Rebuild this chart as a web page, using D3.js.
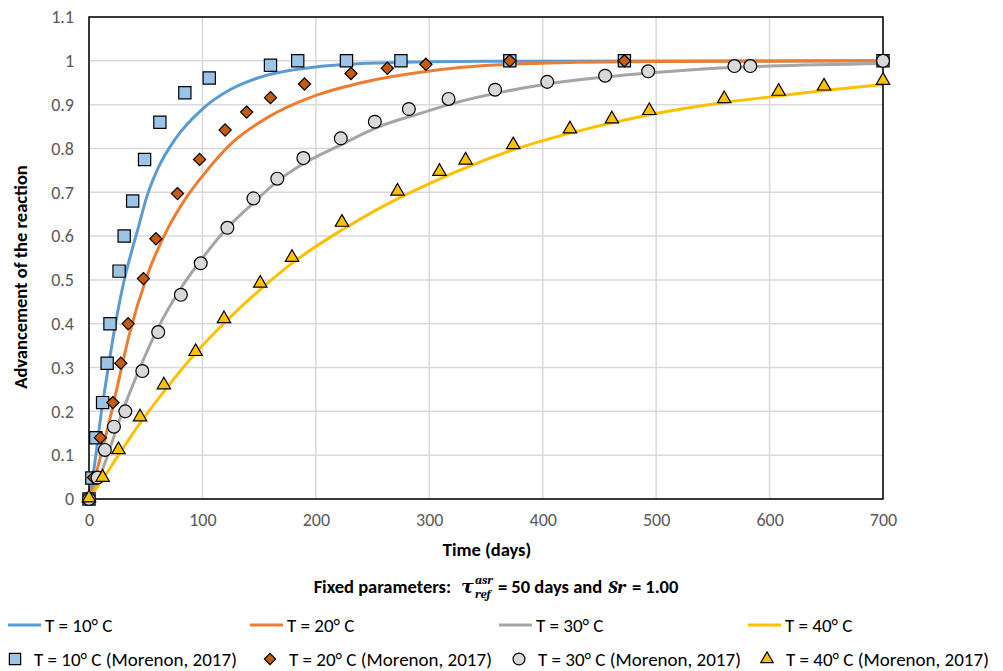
<!DOCTYPE html>
<html>
<head>
<meta charset="utf-8">
<script src="https://cdn.jsdelivr.net/npm/d3@7/dist/d3.min.js"></script>
<style>
body { margin: 0; background: #fff; }
text { font-family: Calibri, Carlito, "Liberation Sans", Arial, sans-serif; white-space: pre; }
</style>
</head>
<body>
<svg id="chart" width="1003" height="671"></svg>
<script>
// model curves (days, advancement)
var curveT10 = [[0,0],[5,0.08],[11,0.2],[17,0.3],[22,0.38],[27,0.45],[32,0.51],[36,0.55],[43.5,0.62],[51,0.69],[60,0.75],[77,0.825],[100,0.89],[125,0.935],[150,0.962],[200,0.986],[256,0.995],[350,0.999],[700,1.0]];
var curveT20 = [[0,0],[5,0.045],[10,0.095],[20,0.2],[27,0.28],[35,0.37],[51,0.508],[70,0.62],[85,0.685],[100,0.737],[127,0.815],[157,0.87],[200,0.921],[245,0.953],[292,0.974],[371,0.992],[472,0.998],[700,1.0]];
var curveT30 = [[0,0],[7,0.035],[14,0.082],[29,0.196],[45,0.3],[60,0.386],[82,0.485],[101,0.553],[122,0.619],[145,0.676],[166,0.725],[189,0.765],[222,0.808],[252,0.846],[292,0.88],[317,0.9],[404,0.947],[493,0.972],[539,0.981],[600,0.988],[700,0.994]];
var curveT40 = [[0,0],[12,0.045],[26,0.1],[45,0.173],[66,0.245],[94,0.333],[119,0.401],[151,0.478],[180,0.54],[223,0.614],[257,0.665],[301,0.721],[374,0.797],[424,0.835],[494,0.877],[560,0.905],[608,0.92],[648,0.932],[700,0.946]];

// Morenon (2017) measurements
var dataT10 = [[0,0],[2.5,0.048],[6,0.14],[12,0.22],[16,0.31],[18.5,0.4],[26.5,0.52],[31,0.6],[38.5,0.68],[49,0.775],[62.5,0.86],[84.5,0.927],[106,0.961],[160,0.99],[184,1.0],[227,1.0],[275,1.0],[371,1.0],[472,1.0],[700,1.0]];
var dataT20 = [[0,0],[4,0.049],[10,0.14],[21,0.22],[28,0.31],[34.5,0.4],[48,0.503],[59,0.594],[78,0.697],[97.5,0.775],[120,0.842],[139,0.883],[160,0.916],[190,0.947],[231,0.971],[263,0.983],[297,0.992],[371,1.0],[472,1.0],[700,1.0]];
var dataT30 = [[0,0],[7.5,0.049],[14,0.112],[22,0.165],[32,0.2],[47,0.292],[61,0.381],[81,0.466],[98.5,0.538],[122,0.619],[145,0.686],[166,0.731],[189,0.778],[222,0.823],[252,0.861],[282,0.89],[317,0.913],[358,0.934],[404,0.952],[455,0.966],[493,0.976],[569,0.988],[583,0.988],[700,1.0]];
var dataT40 = [[0,0],[12,0.047],[26,0.11],[45,0.185],[66,0.258],[94,0.334],[119,0.409],[151,0.49],[179,0.549],[223,0.629],[272,0.7],[309,0.745],[332,0.771],[374,0.806],[424,0.842],[461,0.865],[494,0.884],[560,0.911],[608,0.928],[648,0.94],[700,0.953]];

var curveNames = ["T = 10° C", "T = 20° C", "T = 30° C", "T = 40° C"];
var dataNames = ["T = 10° C (Morenon, 2017)", "T = 20° C (Morenon, 2017)", "T = 30° C (Morenon, 2017)", "T = 40° C (Morenon, 2017)"];
var xTicks = [0, 100, 200, 300, 400, 500, 600, 700];
var yTicks = [0, 0.1, 0.2, 0.3, 0.4, 0.5, 0.6, 0.7, 0.8, 0.9, 1, 1.1];

var lineColors = ["#5b9bd5", "#ed7d31", "#a5a5a5", "#ffc000"];
var markerFills = ["#9dc3e6", "#c55a11", "#d9d9d9", "#ffc000"];
var markerShapes = [d3.symbolSquare, d3.symbolDiamond2, d3.symbolCircle, d3.symbolTriangle];
var markerSizes = [150, 95, 130, 78];

var svg = d3.select("#chart");
var plotLeft = 89, plotRight = 883, plotTop = 17, plotBottom = 499;
var sansFont = "Calibri, Carlito, 'Liberation Sans', Arial, sans-serif";
var serifFont = "Cambria, 'DejaVu Serif', 'Liberation Serif', serif";

var x = d3.scaleLinear().domain([0, 700]).range([plotLeft, plotRight]);
var y = d3.scaleLinear().domain([0, 1.1]).range([plotBottom, plotTop]);

function drawGrid() {
	var grid = svg.append("g");
	grid.selectAll(".gx").data(xTicks).enter().append("line")
		.attr("x1", function(d) { return x(d); }).attr("x2", function(d) { return x(d); })
		.attr("y1", plotTop).attr("y2", plotBottom)
		.attr("stroke", "#d9d9d9").attr("stroke-width", 1.5);
	grid.selectAll(".gy").data(yTicks).enter().append("line")
		.attr("x1", plotLeft).attr("x2", plotRight)
		.attr("y1", function(d) { return y(d); }).attr("y2", function(d) { return y(d); })
		.attr("stroke", "#d9d9d9").attr("stroke-width", 1.5);
}

function drawAxes() {
	var xAxis = d3.axisBottom(x).tickValues(xTicks).tickSize(0).tickPadding(14)
		.tickFormat(d3.format("d"));
	var gx = svg.append("g").attr("transform", "translate(0," + plotBottom + ")").call(xAxis);
	gx.select(".domain").remove();
	gx.selectAll("text").attr("font-size", 18).attr("fill", "#595959")
		.style("font-family", sansFont);

	var yAxis = d3.axisLeft(y).tickValues(yTicks).tickSize(0).tickPadding(15)
		.tickFormat(function(d) { return String(+d.toFixed(1)); });
	var gy = svg.append("g").attr("transform", "translate(" + plotLeft + ",0)").call(yAxis);
	gy.select(".domain").remove();
	gy.selectAll("text").attr("font-size", 18).attr("fill", "#595959")
		.style("font-family", sansFont);

	svg.append("rect").attr("x", plotLeft).attr("y", plotTop)
		.attr("width", plotRight - plotLeft).attr("height", plotBottom - plotTop)
		.attr("fill", "none").attr("stroke", "#000").attr("stroke-width", 1.5);
}

function drawCurves(curves) {
	var line = d3.line()
		.x(function(d) { return x(d[0]); })
		.y(function(d) { return y(d[1]); })
		.curve(d3.curveMonotoneX);
	for (var i = 0; i < curves.length; i++) {
		svg.append("path").attr("d", line(curves[i]))
			.attr("fill", "none").attr("stroke", lineColors[i]).attr("stroke-width", 3);
	}
}

function drawMarkers(sets) {
	for (var i = 0; i < sets.length; i++) {
		var sym = d3.symbol().type(markerShapes[i]).size(markerSizes[i]);
		var dy = (i == 3) ? -1 : 0;
		svg.append("g").selectAll("path").data(sets[i]).enter().append("path")
			.attr("d", sym)
			.attr("transform", function(d) {
				return "translate(" + x(d[0]) + "," + (y(d[1]) + dy) + ")";
			})
			.attr("fill", markerFills[i]).attr("stroke", "#000").attr("stroke-width", 1.2);
	}
}

function drawTitles() {
	svg.append("text").attr("x", 487).attr("y", 556).attr("text-anchor", "middle")
		.attr("font-size", 18.5).attr("font-weight", "bold").text("Time (days)");
	svg.append("text").attr("transform", "translate(27,277) rotate(-90)")
		.attr("text-anchor", "middle").attr("font-size", 18.5).attr("font-weight", "bold")
		.text("Advancement of the reaction");

	// fixed parameters line, pieces laid one after the other
	var g = svg.append("g");
	var cx = 0, base = 593;
	function piece(txt, font, size, style, dy) {
		var t = g.append("text").attr("x", cx).attr("y", base + (dy || 0))
			.attr("font-size", size).attr("font-weight", "bold")
			.attr("font-style", style).style("font-family", font).text(txt);
		return t.node().getComputedTextLength();
	}
	cx += piece("Fixed parameters:", sansFont, 18.5, "normal") + 10;
	cx += piece("τ", serifFont, 19, "italic") + 1;
	var w1 = piece("asr", serifFont, 12.5, "italic", -9);
	var w2 = piece("ref", serifFont, 12.5, "italic", 5);
	cx += Math.max(w1, w2) + 5;
	cx += piece("= 50 days and", sansFont, 18.5, "normal") + 6;
	cx += piece("Sr", serifFont, 19, "italic") + 6;
	cx += piece("= 1.00", sansFont, 18.5, "normal");
	g.attr("transform", "translate(" + (496 - cx / 2) + ",0)");
}

function drawLegend() {
	var row1 = 625, row2 = 659;
	var lx = [8, 250, 499, 748];
	var mx = [15, 270, 519, 767];
	for (var i = 0; i < 4; i++) {
		svg.append("line").attr("x1", lx[i]).attr("x2", lx[i] + 33)
			.attr("y1", row1).attr("y2", row1)
			.attr("stroke", lineColors[i]).attr("stroke-width", 3);
		svg.append("text").attr("x", lx[i] + 37).attr("y", row1).attr("dy", "0.35em")
			.attr("font-size", 19).text(curveNames[i]);

		var sym = d3.symbol().type(markerShapes[i]).size(markerSizes[i] * 0.85);
		svg.append("path").attr("d", sym)
			.attr("transform", "translate(" + mx[i] + "," + row2 + ")")
			.attr("fill", markerFills[i]).attr("stroke", "#000").attr("stroke-width", 1.2);
		svg.append("text").attr("x", mx[i] + 19).attr("y", row2).attr("dy", "0.35em")
			.attr("font-size", 19).text(dataNames[i]);
	}
}

try {
	drawGrid();
	drawCurves([curveT10, curveT20, curveT30, curveT40]);
	drawAxes();
	drawMarkers([dataT10, dataT20, dataT30, dataT40]);
	drawTitles();
	drawLegend();
} catch (error) {
	console.log("Chart error: " + error);
}
</script>
</body>
</html>
